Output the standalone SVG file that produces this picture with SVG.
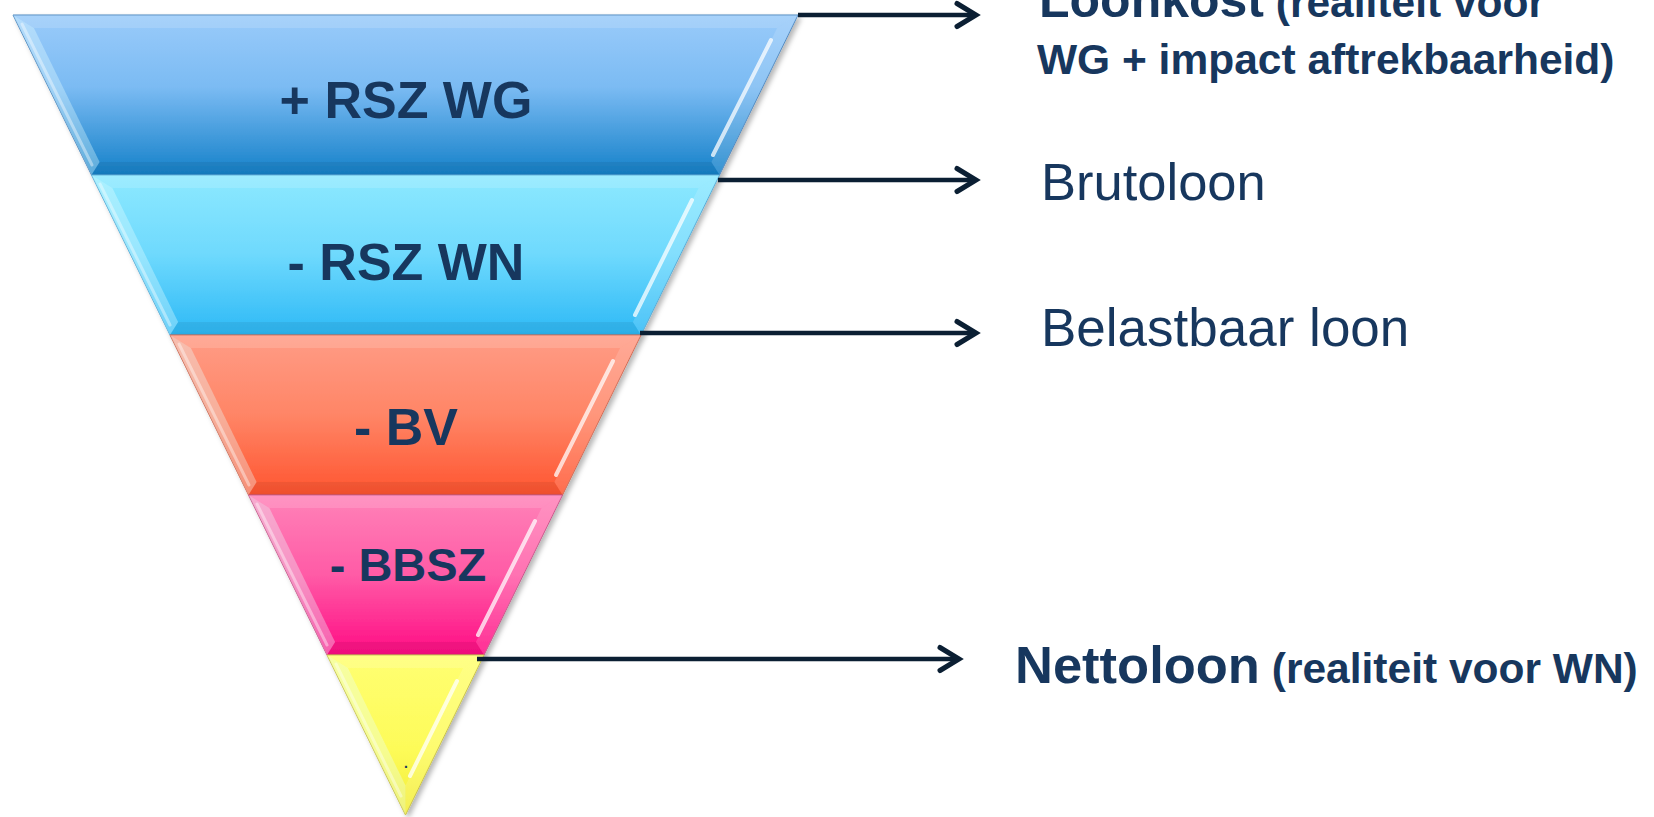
<svg xmlns="http://www.w3.org/2000/svg" width="1654" height="817" viewBox="0 0 1654 817">
<defs>
<style>
.lbl{font-family:"Liberation Sans",Arial,sans-serif;font-weight:bold;fill:#17375E;text-anchor:middle}
.side{font-family:"Liberation Sans",Arial,sans-serif;fill:#17375E}
.b{font-weight:bold}
.conn{stroke:#0B1F33;stroke-width:4.5;fill:none;marker-end:url(#arr)}
.ftop{fill:#ffffff;fill-opacity:0.14}
.fleft{fill:#E8FFFF;fill-opacity:0.34}
.fright{fill:#ffffff;fill-opacity:0.14}
.fbot{fill:#000000;fill-opacity:0.06}
.hl{stroke:#ffffff;stroke-opacity:0.75;stroke-width:4;fill:none;stroke-linecap:round}
.hll{stroke:#ffffff;stroke-opacity:0.4;stroke-width:3;fill:none;stroke-linecap:round}
</style>
<linearGradient id="g1" x1="0" y1="0" x2="0" y2="1"><stop offset="0" stop-color="#9ACBFA"/><stop offset="0.45" stop-color="#7BBBF3"/><stop offset="1" stop-color="#1581C9"/></linearGradient>
<linearGradient id="g2" x1="0" y1="0" x2="0" y2="1"><stop offset="0" stop-color="#8DE9FF"/><stop offset="0.5" stop-color="#6ED9FD"/><stop offset="1" stop-color="#2DB9F6"/></linearGradient>
<linearGradient id="g3" x1="0" y1="0" x2="0" y2="1"><stop offset="0" stop-color="#FF9C86"/><stop offset="0.5" stop-color="#FF8566"/><stop offset="1" stop-color="#FF5530"/></linearGradient>
<linearGradient id="g4" x1="0" y1="0" x2="0" y2="1"><stop offset="0" stop-color="#FF82B8"/><stop offset="0.5" stop-color="#FF5BA6"/><stop offset="1" stop-color="#FF0C84"/></linearGradient>
<linearGradient id="g5" x1="0" y1="0" x2="0" y2="1"><stop offset="0" stop-color="#FFFF72"/><stop offset="0.6" stop-color="#FDFB58"/><stop offset="1" stop-color="#F2EC36"/></linearGradient>
<filter id="sh" x="-5%" y="-5%" width="115%" height="120%"><feDropShadow dx="3" dy="3" stdDeviation="2.5" flood-color="#000" flood-opacity="0.28"/></filter>
<marker id="arr" markerUnits="userSpaceOnUse" markerWidth="30" markerHeight="34" viewBox="-24 -17 30 34" refX="0" refY="0" orient="auto"><path d="M-19,-11.5 L0,0 L-19,11.5" fill="none" stroke="#0B1F33" stroke-width="5" stroke-linecap="round" stroke-linejoin="miter"/></marker>
</defs>
<rect width="1654" height="817" fill="#ffffff"/>

<g id="band-rsz-wg">
<polygon points="13,15 798,15 719.5,175 91.5,175" fill="url(#g1)" stroke="#4A86BF" stroke-width="1" filter="url(#sh)"/>
<polygon class="ftop" points="13,15 798,15 777.1,28 33.9,28"/>
<polygon class="fleft" points="13,15 33.9,28 99.6,162 91.5,175"/>
<polygon class="fright" points="798,15 719.5,175 711.4,162 777.1,28"/>
<polygon class="fbot" points="91.5,175 719.5,175 711.4,162 99.6,162"/>
<line class="hl" x1="771" y1="40" x2="713" y2="155"/>
<line class="hll" x1="22" y1="24" x2="92" y2="165"/>
<text class="lbl" x="406" y="118" font-size="52">+ RSZ WG</text>
</g>

<g id="band-rsz-wn">
<polygon points="91.5,175 719.5,175 641,335 170,335" fill="url(#g2)" stroke="#4FA9D6" stroke-width="1" filter="url(#sh)"/>
<polygon class="ftop" points="91.5,175 719.5,175 698.6,188 112.4,188"/>
<polygon class="fleft" points="91.5,175 112.4,188 178.1,322 170,335"/>
<polygon class="fright" points="719.5,175 641,335 632.9,322 698.6,188"/>
<polygon class="fbot" points="170,335 641,335 632.9,322 178.1,322"/>
<line class="hl" x1="692" y1="200" x2="635" y2="315"/>
<line class="hll" x1="100" y1="184" x2="170" y2="325"/>
<text class="lbl" x="406" y="280" font-size="52">- RSZ WN</text>
</g>

<g id="band-bv">
<polygon points="170,335 641,335 562.5,495 248.5,495" fill="url(#g3)" stroke="#D0644C" stroke-width="1" filter="url(#sh)"/>
<polygon class="ftop" points="170,335 641,335 620.1,348 190.9,348"/>
<polygon class="fleft" points="170,335 190.9,348 256.6,482 248.5,495"/>
<polygon class="fright" points="641,335 562.5,495 554.4,482 620.1,348"/>
<polygon class="fbot" points="248.5,495 562.5,495 554.4,482 256.6,482"/>
<line class="hl" x1="613" y1="361" x2="556" y2="475"/>
<line class="hll" x1="179" y1="344" x2="249" y2="485"/>
<text class="lbl" x="406" y="445" font-size="52">- BV</text>
</g>

<g id="band-bbsz">
<polygon points="248.5,495 562.5,495 484,655 327,655" fill="url(#g4)" stroke="#C84F85" stroke-width="1" filter="url(#sh)"/>
<polygon class="ftop" points="248.5,495 562.5,495 541.6,508 269.4,508"/>
<polygon class="fleft" points="248.5,495 269.4,508 335.1,642 327,655"/>
<polygon class="fright" points="562.5,495 484,655 475.9,642 541.6,508"/>
<polygon class="fbot" points="327,655 484,655 475.9,642 335.1,642"/>
<line class="hl" x1="535" y1="521" x2="478" y2="635"/>
<line class="hll" x1="257" y1="504" x2="327" y2="645"/>
<text class="lbl" x="408" y="581" font-size="47">- BBSZ</text>
</g>

<g id="band-netto">
<polygon points="327,655 484,655 405.5,815" fill="url(#g5)" stroke="#C8C040" stroke-width="1" filter="url(#sh)"/>
<polygon class="ftop" points="327,655 484,655 463.1,668 347.9,668"/>
<polygon class="fleft" points="327,655 347.9,668 405.5,785.4 405.5,815"/>
<polygon class="fright" points="484,655 405.5,815 405.5,785.4 463.1,668"/>
<line class="hl" x1="457" y1="681" x2="410" y2="776"/>
<line class="hll" x1="336" y1="664" x2="401" y2="796"/>
<text class="lbl" x="406" y="768" font-size="14">.</text>
</g>

<g id="connectors">
<line class="conn" x1="798" y1="15" x2="976" y2="15"/>
<line class="conn" x1="718" y1="180" x2="976" y2="180"/>
<line class="conn" x1="640" y1="333" x2="976" y2="333"/>
<line class="conn" x1="477" y1="659" x2="959" y2="659"/>
</g>

<g id="label-loonkost">
<text class="side b" x="1039" y="17" font-size="50">Loonkost<tspan font-size="42.5"> (realiteit voor</tspan></text>
<text class="side b" x="1037" y="74" font-size="42.5">WG + impact aftrekbaarheid)</text>
</g>
<g id="label-brutoloon">
<text class="side" x="1041" y="200" font-size="52.5">Brutoloon</text>
</g>
<g id="label-belastbaar">
<text class="side" x="1041" y="346" font-size="53">Belastbaar loon</text>
</g>
<g id="label-nettoloon">
<text class="side b" x="1015" y="683" font-size="52.5">Nettoloon<tspan font-size="42.5"> (realiteit voor WN)</tspan></text>
</g>
</svg>
